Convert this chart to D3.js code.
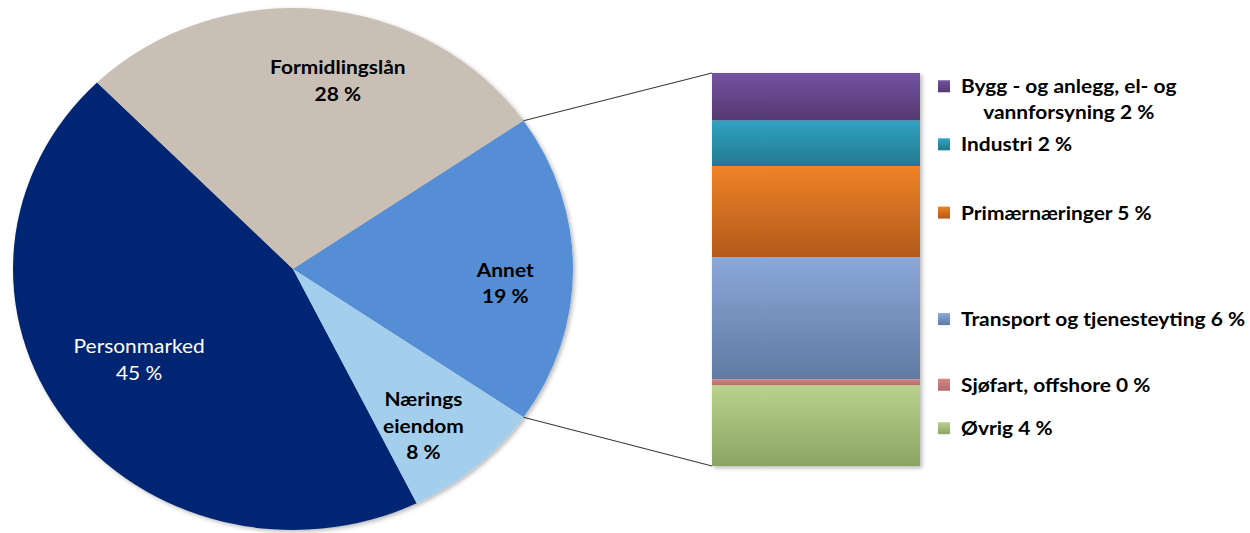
<!DOCTYPE html>
<html>
<head>
<meta charset="utf-8">
<script src="https://cdn.jsdelivr.net/npm/d3@7"></script>
<style>
  html, body { margin: 0; padding: 0; background: #ffffff; }
  svg { display: block; }
  text { font-family: Lato, "Open Sans", sans-serif; }
</style>
</head>
<body>
<svg id="chart" width="1250" height="533"></svg>
<script>
// ---- data ----
const pieCategories = ["Personmarked", "Formidlingslån", "Annet", "Næringseiendom"];
const pieValues = [44.9, 27.7, 19.2, 8.1];
const pieLabelLines = [["Personmarked", "45 %"], ["Formidlingslån", "28 %"], ["Annet", "19 %"], ["Nærings", "eiendom", "8 %"]];
const pieColors = ["#002873", "#C9BFB4", "#558ED5", "#A3CFEC"];
const pieLabelColors = ["#ffffff", "#000000", "#000000", "#000000"];

const barCategories = ["Bygg - og anlegg, el- og vannforsyning", "Industri", "Primærnæringer", "Transport og tjenesteyting", "Sjøfart, offshore", "Øvrig"];
const barValues = [2.3, 2.2, 4.4, 5.9, 0.3, 3.9];
const barLabels = [["Bygg - og anlegg, el- og", "vannforsyning 2 %"], ["Industri 2 %"], ["Primærnæringer 5 %"], ["Transport og tjenesteyting 6 %"], ["Sjøfart, offshore 0 %"], ["Øvrig 4 %"]];
const barColorsTop = ["#7353A2", "#31A3C2", "#EF8327", "#8AA8D9", "#D08886", "#B9D28C"];
const barColorsBottom = ["#553870", "#23798F", "#B2591B", "#5F7AA2", "#B46C6A", "#8BA465"];

// ---- layout ----
const svg = d3.select("#chart");
const cx = 293, cy = 269, rx = 280, ry = 261;
const sx = rx / ry; // horizontal stretch of the whole picture
const barX = 712, barW = 208, barTop = 73, barBottom = 466;
const fontSize = 19.5;

const defs = svg.append("defs");
const shadow = defs.append("filter").attr("id", "shadow").attr("x", "-10%").attr("y", "-10%").attr("width", "130%").attr("height", "130%");
shadow.append("feDropShadow").attr("dx", 2).attr("dy", 2).attr("stdDeviation", 2).attr("flood-color", "#000").attr("flood-opacity", 0.28);

barColorsTop.forEach((c, i) => {
  const g = defs.append("linearGradient").attr("id", "grad" + i).attr("x1", 0).attr("y1", 0).attr("x2", 0).attr("y2", 1);
  g.append("stop").attr("offset", "0%").attr("stop-color", c);
  g.append("stop").attr("offset", "100%").attr("stop-color", barColorsBottom[i]);
});

// ---- pie ----
const total = d3.sum(pieValues);
const annetIdx = 2;
const annetStart = Math.PI / 2 - (pieValues[annetIdx] / total) * Math.PI;
const startAngle = annetStart - ((pieValues[0] + pieValues[1]) / total) * 2 * Math.PI;
const pie = d3.pie().sort(null).startAngle(startAngle).endAngle(startAngle + 2 * Math.PI);
const arcs = pie(pieValues);
const arc = d3.arc().innerRadius(0).outerRadius(rx);

const pieG = svg.append("g").attr("transform", `translate(${cx},${cy})`);
pieG.append("g").attr("filter", "url(#shadow)").attr("transform", `scale(1,${ry / rx})`)
  .selectAll("path").data(arcs).join("path")
  .attr("d", arc)
  .attr("fill", (d, i) => pieColors[i]);

// label positions: angle offset (deg) and radius fraction per slice
const labelTweak = [{da: 3, f: 0.65}, {da: 7, f: 0.74}, {da: 4, f: 0.76}, {da: 3, f: 0.76}];
const lineH = 26.5;
arcs.forEach((d, i) => {
  const a = (d.startAngle + d.endAngle) / 2 + labelTweak[i].da * Math.PI / 180;
  const r = rx * labelTweak[i].f;
  const x = Math.sin(a) * r;
  const y = -Math.cos(a) * r * ry / rx;
  const lines = pieLabelLines[i];
  const t = pieG.append("g").attr("transform", `translate(${x},${y}) scale(${sx},1)`)
    .append("text")
    .attr("text-anchor", "middle")
    .attr("font-size", fontSize)
    .attr("font-weight", i === 0 ? 400 : 700)
    .attr("fill", pieLabelColors[i]);
  lines.forEach((l, j) => {
    t.append("tspan").attr("x", 0).attr("y", (j - (lines.length - 1) / 2) * lineH + 7).text(l);
  });
});

// ---- bar of pie ----
const barTotal = d3.sum(barValues);
const yScale = d3.scaleLinear().domain([0, barTotal]).range([barTop, barBottom]);
const cum = [];
barValues.reduce((acc, v, i) => { cum.push([acc, acc + v]); return acc + v; }, 0);

const barG = svg.append("g").attr("filter", "url(#shadow)");
barG.selectAll("rect").data(cum).join("rect")
  .attr("x", barX)
  .attr("width", barW)
  .attr("y", d => yScale(d[0]))
  .attr("height", d => yScale(d[1]) - yScale(d[0]))
  .attr("fill", (d, i) => `url(#grad${i})`);

// connector lines from the "Annet" slice edges to the bar
const aS = arcs[annetIdx].startAngle, aE = arcs[annetIdx].endAngle;
const conn = [
  [cx + Math.sin(aS) * rx, cy - Math.cos(aS) * ry, barX, yScale(0)],
  [cx + Math.sin(aE) * rx, cy - Math.cos(aE) * ry, barX, yScale(barTotal)]
];
svg.append("g").selectAll("line").data(conn).join("line")
  .attr("x1", d => d[0]).attr("y1", d => d[1]).attr("x2", d => d[2]).attr("y2", d => d[3])
  .attr("stroke", "#3a3a3a").attr("stroke-width", 1.1);

// ---- legend / labels at the right ----
const legX = 938, textX = 961, sw = 12;
const legG = svg.append("g");
cum.forEach((d, i) => {
  const mid = (yScale(d[0]) + yScale(d[1])) / 2;
  const lines = barLabels[i];
  let swY = mid + 1;
  if (lines.length > 1) swY = mid - 10.5;
  if (i === 4) swY = mid + 2.5;
  if (i === 5) swY = mid + 2.5;
  legG.append("rect").attr("x", legX).attr("y", swY - sw / 2).attr("width", sw).attr("height", sw)
    .attr("fill", `url(#grad${i})`);
  const t = legG.append("g").attr("transform", `translate(${textX},${swY}) scale(${sx},1)`)
    .append("text").attr("font-size", fontSize).attr("font-weight", 700).attr("fill", "#000");
  const first = t.append("tspan").attr("x", 0).attr("y", 7).text(lines[0]);
  if (lines.length > 1) {
    const w1 = first.node().getComputedTextLength();
    const second = t.append("tspan").attr("y", 7 + 25.5).text(lines[1]);
    const w2 = second.node().getComputedTextLength();
    second.attr("x", (w1 - w2) / 2);
  }
});
</script>
</body>
</html>
